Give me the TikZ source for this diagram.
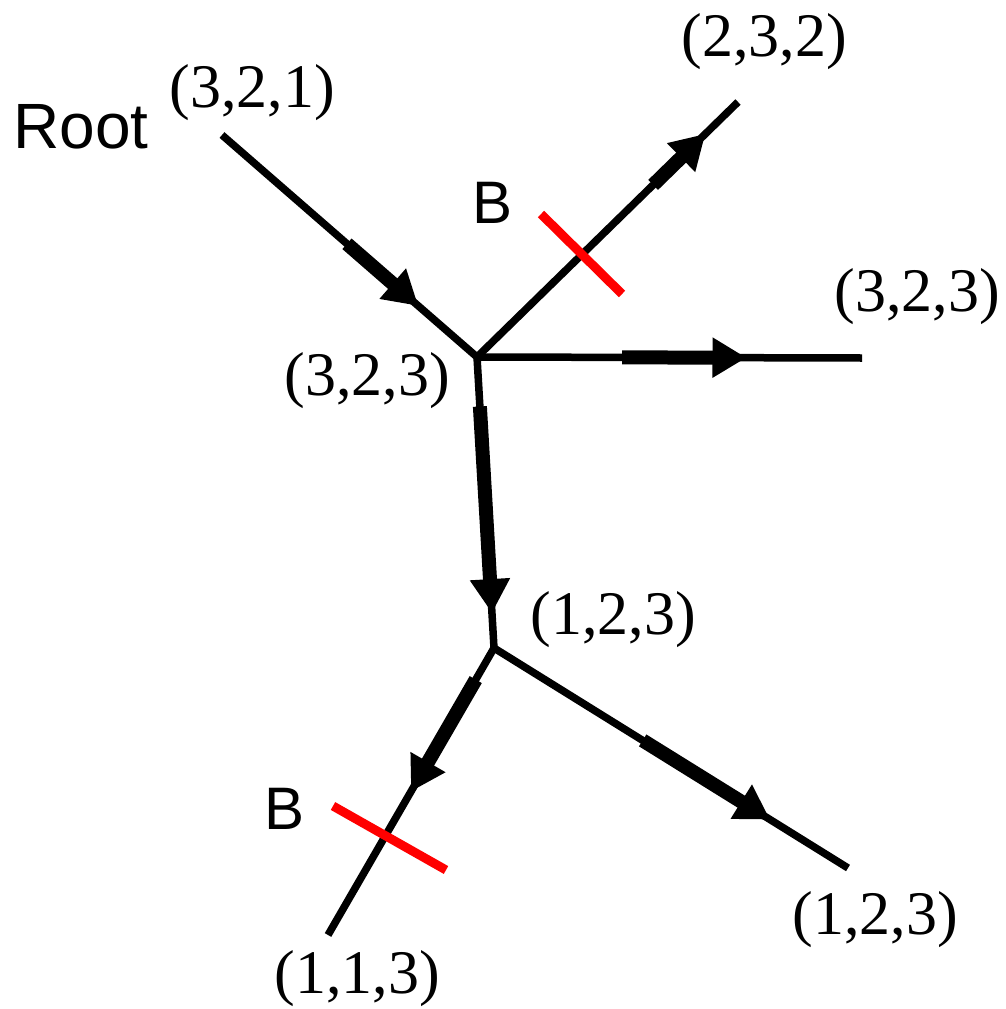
\documentclass[tikz,border=0pt]{standalone}
\usepackage{fontspec}
\setmainfont{Liberation Serif}
\newfontfamily\arialfont{Liberation Sans}
\usetikzlibrary{arrows.meta,calc}
\begin{document}
\begin{tikzpicture}[x=1pt,y=-1pt,
  edge/.style={line width=7.5pt},
  heavy/.style={line width=14pt,-{Triangle[length=34pt,width=38pt]}},
  cut/.style={line width=9pt,red},
  lbl/.style={inner sep=0pt,font=\fontsize{62}{70}\selectfont},
  slbl/.style={inner sep=0pt,font=\arialfont\fontsize{64}{70}\selectfont},
  blbl/.style={inner sep=0pt,font=\arialfont\fontsize{60}{66}\selectfont}]
\path[use as bounding box] (0,0) rectangle (1006,1009);
% junctions and ends
\coordinate (r) at (222,135);
\coordinate (c1) at (477,357);
\coordinate (e232) at (738,102);
\coordinate (e323) at (862,358);
\coordinate (c2) at (494,648);
\coordinate (e113) at (328,935);
\coordinate (e123) at (848,868);
% cut marks
\coordinate (k1a) at (541,214);
\coordinate (k1b) at (622,294);
\coordinate (k2a) at (333,806);
\coordinate (k2b) at (446,870);
% labels
\node[slbl] (root) at (81,127) {Root};
\node[lbl] (l321) at (252,93) {(3,2,1)};
\node[lbl] (l232) at (764,42) {(2,3,2)};
\node[lbl] (l323r) at (917,297) {(3,2,3)};
\node[lbl] (l323) at (367,381) {(3,2,3)};
\node[lbl] (l123m) at (613,620) {(1,2,3)};
\node[lbl] (l113) at (357,979) {(1,1,3)};
\node[lbl] (l123) at (875,920) {(1,2,3)};
\node[blbl] (b1) at (493,203) {B};
\node[blbl] (b2) at (285,809) {B};
% edges
\draw[edge] (r) -- (c1);
\draw[edge] (c1) -- (e232);
\draw[edge] (c1) -- (e323);
\draw[edge] (c1) -- (c2);
\draw[edge] (c2) -- (e113);
\draw[edge] (c2) -- (e123);
% heavy arrow segments
\draw[heavy] ($(r)!0.49!(c1)$) -- ($(r)!0.77!(c1)$);
\draw[heavy] ($(c1)!0.675!(e232)$) -- ($(c1)!0.875!(e232)$);
\draw[heavy] ($(c1)!0.377!(e323)$) -- ($(c1)!0.70!(e323)$);
\draw[heavy] ($(c1)!0.17!(c2)$) -- ($(c1)!0.88!(c2)$);
\draw[heavy] ($(c2)!0.11!(e113)$) -- ($(c2)!0.50!(e113)$);
\draw[heavy] ($(c2)!0.42!(e123)$) -- ($(c2)!0.78!(e123)$);
% cuts
\draw[cut] (k1a) -- (k1b);
\draw[cut] (k2a) -- (k2b);
\end{tikzpicture}
\end{document}
